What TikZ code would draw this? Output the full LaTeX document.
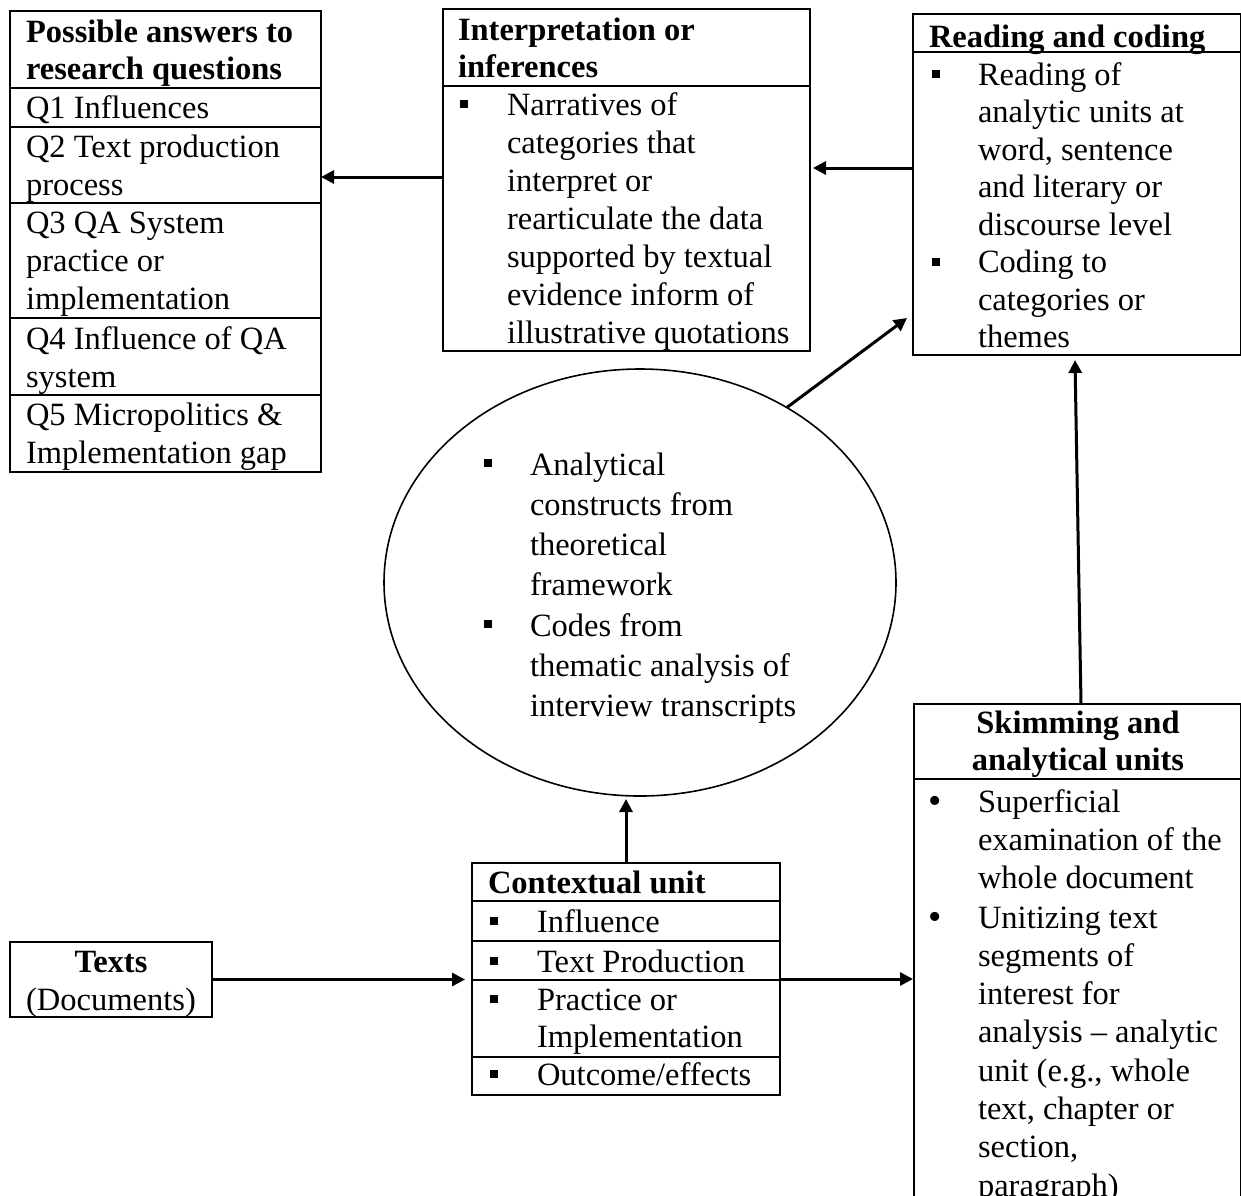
\documentclass[tikz,border=0pt]{standalone}
\usepackage{fontspec}
\setmainfont{Liberation Serif}
\usetikzlibrary{arrows.meta,calc,shapes.geometric}
\tikzset{
  box/.style={draw, line width=1.2pt, inner sep=0pt, outer sep=0pt, rectangle},
  oval/.style={draw, line width=1.6pt, inner sep=0pt, outer sep=0pt, ellipse},
  txt/.style={inner sep=0pt, outer sep=0pt, anchor=base west, align=left, font=\fontsize{32.5}{38}\selectfont},
  hdr/.style={inner sep=0pt, outer sep=0pt, anchor=base west, align=left, font=\fontsize{32.5}{37}\selectfont\bfseries},
  ctr/.style={inner sep=0pt, outer sep=0pt, anchor=base, align=center, font=\fontsize{32.5}{37}\selectfont},
  sq/.style={fill=black, inner sep=0pt, outer sep=0pt, minimum size=8pt, rectangle},
  divline/.style={line width=1.2pt},
  arr/.style={line width=3pt, -{Triangle[length=13pt,width=13pt]}},
}
\begin{document}
\begin{tikzpicture}[x=1pt,y=-1pt]
\useasboundingbox (0,0) rectangle (1241,1195);
\fill[white] (0,0) rectangle (1241,1195);

% NOTE: multi-line nodes are placed at the baseline of their LAST line

% ---------- Box A: possible answers ----------
\node[box, minimum width=311pt, minimum height=461pt] (A) at (165.5,241.5) {};
\foreach \yy in {88,127,203,318,395}{\draw[divline] (A.west |- 0,\yy) -- (A.east |- 0,\yy);}
\node[hdr] (a0) at (26,79) {Possible answers to\\research questions};
\node[txt] (a1) at (26,118) {Q1 Influences};
\node[txt] (a2) at (26,195) {Q2 Text production\\process};
\node[txt] (a3) at (26,309) {Q3 QA System\\practice or\\implementation};
\node[txt] (a4) at (26,387) {Q4 Influence of QA\\system};
\node[txt] (a5) at (26,463) {Q5 Micropolitics \&\\Implementation gap};

% ---------- Box B: interpretation ----------
\node[box, minimum width=367pt, minimum height=342pt] (B) at (626.5,180) {};
\draw[divline] (B.west |- 0,86) -- (B.east |- 0,86);
\node[hdr] (b0) at (458,77) {Interpretation or\\inferences};
\node[sq] (bs1) at (463.5,104) {};
\node[txt] (b1) at (507,343) {Narratives of\\categories that\\interpret or\\rearticulate the data\\supported by textual\\evidence inform of\\illustrative quotations};

% ---------- Box C: reading and coding ----------
\node[box, minimum width=328pt, minimum height=341pt] (C) at (1077,184.5) {};
\draw[divline] (C.west |- 0,52) -- (C.east |- 0,52);
\node[hdr] (c0) at (929,47) {Reading and coding};
\node[sq] (cs1) at (936,74) {};
\node[txt, font=\fontsize{32.5}{37.5}\selectfont] (c1) at (978,235) {Reading of\\analytic units at\\word, sentence\\and literary or\\discourse level};
\node[sq] (cs2) at (936,261.5) {};
\node[txt, font=\fontsize{32.5}{37.5}\selectfont] (c2) at (978,347.5) {Coding to\\categories or\\themes};

% ---------- Ellipse ----------
\node[oval, minimum width=512pt, minimum height=427pt] (E) at (640,582.5) {};
\node[sq] (es1) at (488,463) {};
\node[txt, font=\fontsize{32.5}{40.2}\selectfont] (e1) at (530,595.6) {Analytical\\constructs from\\theoretical\\framework};
\node[sq] (es2) at (488,624) {};
\node[txt, font=\fontsize{32.5}{40.2}\selectfont] (e2) at (530,716.4) {Codes from\\thematic analysis of\\interview transcripts};

% ---------- Box D: contextual unit ----------
\node[box, minimum width=308pt, minimum height=232pt] (D) at (626,979) {};
\foreach \yy in {901,941,980,1057}{\draw[divline] (D.west |- 0,\yy) -- (D.east |- 0,\yy);}
\node[hdr] (d0) at (488,893) {Contextual unit};
\node[sq] (ds1) at (494,921) {};
\node[txt] (d1) at (537,932) {Influence};
\node[sq] (ds2) at (494,961) {};
\node[txt] (d2) at (537,972) {Text Production};
\node[sq] (ds3) at (494,999) {};
\node[txt, font=\fontsize{32.5}{37}\selectfont] (d3) at (537,1047) {Practice or\\Implementation};
\node[sq] (ds4) at (494,1074) {};
\node[txt] (d4) at (537,1085) {Outcome/effects};

% ---------- Box T: texts ----------
\node[box, minimum width=202pt, minimum height=75pt] (T) at (111,979.5) {};
\node[ctr, font=\fontsize{32.5}{37}\selectfont\bfseries] (t0) at (111,972) {Texts};
\node[ctr] (t1) at (111,1010) {(Documents)};

% ---------- Box F: skimming ----------
\node[box, minimum width=327pt, minimum height=500pt] (F) at (1077.5,954) {};
\draw[divline] (F.west |- 0,779) -- (F.east |- 0,779);
\node[ctr, font=\fontsize{32.5}{37}\selectfont\bfseries] (f0) at (1078,770) {Skimming and\\analytical units};
\node[txt, font=\fontsize{38}{38}\selectfont] (fb1) at (928,813) {•};
\node[txt, font=\fontsize{32.5}{38.3}\selectfont] (f1) at (978,888.6) {Superficial\\examination of the\\whole document};
\node[txt, font=\fontsize{38}{38}\selectfont] (fb2) at (928,929) {•};
\node[txt, font=\fontsize{32.5}{38.3}\selectfont] (f2) at (978,1196.1) {Unitizing text\\segments of\\interest for\\analysis – analytic\\unit (e.g., whole\\text, chapter or\\section,\\paragraph)};

% ---------- Connectors ----------
\draw[arr] (B.west |- 0,177) -- (A.east |- 0,177);
\draw[arr, shorten >=3pt] (C.west |- 0,168) -- (B.east |- 0,168);
\draw[arr] (E.50) -- ($(C.south west)+(-6,-37)$);
\draw[arr] ($(F.north west)+(167,0)$) -- ($(C.south west)+(162,5)$);
\draw[arr, shorten >=3pt] (D.north) -- (D.north |- E.south);
\draw[arr, shorten >=7pt] (T.east) -- (T.east -| D.west);
\draw[arr, shorten >=1pt] (D.east) -- (D.east -| F.west);
\end{tikzpicture}
\end{document}
